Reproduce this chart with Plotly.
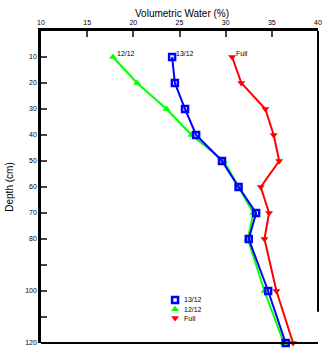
import plotly.graph_objects as go

depth = [10, 20, 30, 40, 50, 60, 70, 80, 100, 120]
s1312 = [24.2, 24.5, 25.6, 26.8, 29.6, 31.4, 33.3, 32.5, 34.6, 36.5]
s1212 = [17.8, 20.4, 23.6, 26.3, 29.8, 31.4, 33.0, 32.4, 34.2, 36.3]
full = [30.7, 31.7, 34.3, 35.2, 35.8, 33.8, 34.7, 34.2, 35.5, 37.3]
names = ["13/12", "12/12", "Full"]
colors = ["#0000ff", "#00ff00", "#ff0000"]
symbols = ["square-open", "triangle-up", "triangle-down"]
xticks = [10, 15, 20, 25, 30, 35, 40]
yticks = [10, 20, 30, 40, 50, 60, 70, 80, 90, 100, 110, 120]
ylabels = ["10", "20", "30", "40", "50", "60", "70", "80", "", "100", "", "120"]

FONT = "Liberation Sans, Arial, sans-serif"
fig = go.Figure()
series = [s1312, s1212, full]
legend_y = [0.138, 0.108, 0.080]
draw_order = [1, 0, 2]  # green under blue
annotations = []
for i in draw_order:
    nm, vals, col, sym = names[i], series[i], colors[i], symbols[i]
    mk = dict(symbol=sym, size=7, color=col)
    if sym == "square-open":
        mk.update(line=dict(color=col, width=2.5), size=6)
    fig.add_trace(go.Scatter(
        x=vals, y=depth, mode="lines+markers",
        line=dict(color=col, width=2), marker=mk, showlegend=False, cliponaxis=False))
    annotations.append(dict(x=vals[0], y=depth[0], xref="x", yref="y", text=nm,
                            showarrow=False, xanchor="left", yanchor="bottom",
                            xshift=2, yshift=-2, font=dict(size=7, family=FONT)))
for nm, col, sym, ly in zip(names, colors, symbols, legend_y):
    mk = dict(symbol=sym, size=7, color=col)
    if sym == "square-open":
        mk.update(line=dict(color=col, width=2.5), size=6)
    # custom compact legend
    fig.add_trace(go.Scatter(x=[0.484], y=[ly], xaxis="x2", yaxis="y2", mode="markers",
                             marker=mk, showlegend=False, hoverinfo="skip", cliponaxis=False))
    annotations.append(dict(x=0.51, y=ly, xref="paper", yref="paper", text=nm,
                            showarrow=False, xanchor="left", yanchor="middle",
                            font=dict(size=7, family=FONT)))

fig.update_layout(
    width=331, height=355, margin=dict(l=41, r=13, t=31, b=12),
    paper_bgcolor="white", plot_bgcolor="white", showlegend=False,
    font=dict(family=FONT, size=7, color="black"),
    title=dict(text="Volumetric Water (%)", x=0.55, xanchor="center", y=0.963, yanchor="middle",
               font=dict(size=10, family=FONT)),
    xaxis=dict(side="top", range=[10, 40], tickvals=xticks, ticks="inside", ticklen=6,
               tickwidth=2, showline=True, linewidth=2.5, linecolor="black", showgrid=False,
               zeroline=False, tickfont=dict(size=7, family=FONT), automargin=False),
    yaxis=dict(range=[120, 0], tickvals=yticks, ticktext=ylabels, ticks="inside", ticklen=6,
               tickwidth=2, showline=True, linewidth=2.5, linecolor="black", showgrid=False,
               zeroline=False, tickfont=dict(size=7, family=FONT), automargin=False,
               title=dict(text="Depth (cm)", font=dict(size=10, family=FONT), standoff=10)),
    xaxis2=dict(overlaying="x", range=[0, 1], visible=False, fixedrange=True),
    yaxis2=dict(overlaying="y", range=[0, 1], visible=False, fixedrange=True),
    annotations=annotations,
    shapes=[
        dict(type="line", xref="paper", yref="paper", x0=0, x1=1, y0=0, y1=0,
             line=dict(color="black", width=2)),
        dict(type="line", xref="paper", yref="y", x0=1, x1=1, y0=0, y1=108,
             line=dict(color="black", width=2)),
    ],
)
fig.write_html("out.html")
